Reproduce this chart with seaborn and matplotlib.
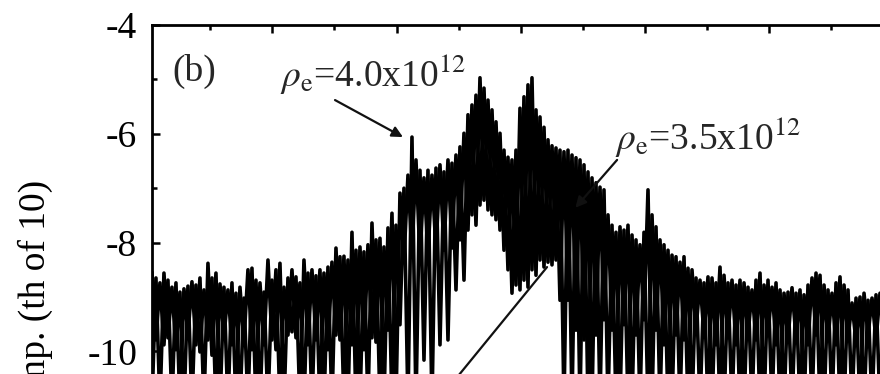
import numpy as np
import pandas as pd
import matplotlib
matplotlib.use("Agg")
import matplotlib.pyplot as plt
from matplotlib.ticker import MultipleLocator
import seaborn as sns

# Spectrum amplitude (log10) read as alternating spike tips and spike floors,
# sampled on an even frequency grid from freq_start to freq_stop.
spike_tips = [
    -8.54, -8.65, -8.74, -8.56, -8.69, -8.82, -8.74, -8.91, -8.85, -8.80,
    -8.72, -8.78, -8.65, -8.87, -8.38, -8.65, -8.56, -8.76, -8.82, -8.87,
    -8.74, -8.93, -8.82, -9.02, -8.50, -8.47, -8.69, -8.74, -8.91, -8.32,
    -8.69, -8.50, -8.38, -8.82, -8.65, -8.50, -8.63, -8.74, -8.32, -8.56,
    -8.50, -8.61, -8.50, -8.56, -8.45, -8.36, -8.10, -8.26, -8.25, -8.32,
    -7.81, -8.14, -8.08, -8.17, -8.04, -7.64, -7.95, -7.92, -8.08, -7.73,
    -7.46, -7.68, -7.09, -7.00, -6.76, -6.06, -6.48, -6.67, -6.81, -6.67,
    -6.76, -6.63, -6.57, -6.70, -6.48, -6.54, -6.39, -6.24, -5.99, -5.65,
    -5.47, -5.29, -4.97, -5.16, -5.38, -5.56, -5.78, -5.99, -6.30, -6.43,
    -6.48, -6.30, -5.53, -5.32, -5.10, -4.97, -5.56, -5.69, -5.88, -6.11,
    -6.22, -6.26, -6.30, -6.33, -6.30, -6.39, -6.44, -6.48, -6.57, -6.70,
    -6.81, -6.90, -6.98, -7.03, -7.49, -7.68, -7.81, -7.71, -7.77, -7.68,
    -7.86, -7.95, -8.04, -7.81, -7.03, -7.49, -7.71, -7.95, -8.04, -8.14,
    -8.23, -8.26, -8.36, -8.26, -8.47, -8.50, -8.65, -8.69, -8.74, -8.63,
    -8.65, -8.74, -8.45, -8.60, -8.74, -8.69, -8.78, -8.69, -8.74, -8.82,
    -8.87, -8.69, -8.56, -8.78, -8.69, -8.82, -8.74, -8.87, -8.93, -8.91,
    -8.83, -8.93, -8.87, -8.96, -8.78, -8.65, -8.56, -8.60, -8.78, -8.87,
    -8.93, -8.74, -8.63, -8.78, -8.87, -9.11, -9.02, -9.00, -8.93, -9.06,
    -9.02, -8.96, -8.93,
]
spike_floors = [
    -11.0, -9.79, -11.0, -9.88, -9.75, -11.0, -9.97, -11.0, -11.0, -9.70,
    -11.0, -9.88, -10.01, -11.0, -9.79, -10.07, -11.0, -11.0, -9.75, -11.0,
    -9.88, -11.0, -11.0, -9.83, -11.0, -9.97, -11.0, -11.0, -9.88, -11.0,
    -9.79, -9.97, -11.0, -11.0, -9.70, -9.64, -9.75, -11.0, -11.0, -9.88,
    -11.0, -9.79, -11.0, -11.0, -9.97, -11.0, -9.70, -9.79, -11.0, -11.0,
    -9.88, -11.0, -11.0, -9.97, -11.0, -9.75, -9.83, -11.0, -11.0, -9.61,
    -11.0, -11.0, -9.51, -8.32, -11.0, -8.23, -11.0, -8.28, -10.16, -8.23,
    -11.0, -8.14, -9.88, -8.14, -9.79, -8.10, -8.87, -7.95, -8.69, -7.77,
    -7.49, -7.68, -7.31, -7.22, -7.40, -7.49, -7.58, -7.77, -8.14, -8.50,
    -8.93, -8.78, -8.87, -8.69, -8.82, -8.50, -8.60, -8.32, -8.45, -8.36,
    -8.41, -8.32, -9.06, -11.0, -9.06, -11.0, -9.61, -11.0, -9.79, -11.0,
    -11.0, -9.70, -11.0, -9.42, -11.0, -9.61, -11.0, -11.0, -9.51, -11.0,
    -11.0, -9.70, -11.0, -9.42, -11.0, -11.0, -9.61, -11.0, -9.88, -11.0,
    -11.0, -9.70, -11.0, -9.79, -11.0, -11.0, -9.61, -11.0, -9.70, -11.0,
    -11.0, -9.88, -11.0, -11.0, -9.75, -11.0, -9.88, -11.0, -11.0, -9.70,
    -11.0, -9.79, -11.0, -11.0, -9.70, -11.0, -9.88, -11.0, -11.0, -9.79,
    -11.0, -9.75, -11.0, -11.0, -9.88, -11.0, -9.70, -11.0, -11.0, -9.79,
    -11.0, -9.88, -11.0, -11.0, -9.75, -11.0, -9.83, -11.0, -11.0, -9.70,
    -11.0, -9.79, -11.0,
]
freq_start, freq_stop = 0.031, 5.893

trace_names = ["rho_e 4.0e12", "rho_e 3.5e12"]
ytick_values = [-4, -6, -8, -10]
ytick_labels = ["-4", "-6", "-8", "-10"]
panel_label = "(b)"
density_labels = [r"$\rho_{\rm e}$=4.0x10$^{12}$", r"$\rho_{\rm e}$=3.5x10$^{12}$"]
y_label = "Amp. (th of 10)"

# Two interleaved traces: where one sits on a tip the other sits on a floor
freq = np.linspace(freq_start, freq_stop, len(spike_tips))
tips = np.asarray(spike_tips)
floors = np.asarray(spike_floors)
even = np.arange(len(freq)) % 2 == 0
trace_a = np.where(even, tips, floors)
trace_b = np.where(even, floors, tips)
df = pd.concat([
    pd.DataFrame({"freq": freq, "amp": trace_a, "trace": trace_names[0]}),
    pd.DataFrame({"freq": freq, "amp": trace_b, "trace": trace_names[1]}),
], ignore_index=True)

sns.set_theme(style="ticks")
plt.rcParams["font.family"] = ["Liberation Serif", "DejaVu Serif"]
plt.rcParams["mathtext.fontset"] = "stix"
plt.rcParams["axes.unicode_minus"] = False

FS = 27
fig = plt.figure(figsize=(8.8, 3.74), dpi=100)
ax = fig.add_axes([0.17239, -0.52139, 0.84273, 1.45455])

sns.lineplot(data=df, x="freq", y="amp", hue="trace",
             palette=["#000000", "#000000"], estimator=None, sort=False,
             legend=False, linewidth=2.6, ax=ax)

ax.set_xlim(0.029, 6.0)
ax.set_ylim(-14, -4)
ax.xaxis.set_major_locator(MultipleLocator(1))
ax.xaxis.set_minor_locator(MultipleLocator(0.5))
ax.set_yticks(ytick_values, ytick_labels)
ax.yaxis.set_minor_locator(MultipleLocator(1))
ax.tick_params(which="both", direction="in", top=True, right=True,
               labelbottom=False, colors="black", labelsize=FS)
ax.tick_params(which="major", length=5.8, width=1.8, pad=10.5)
ax.tick_params(which="minor", length=3.6, width=1.8)
for sp in ax.spines.values():
    sp.set_linewidth(2.0)
    sp.set_color("black")
ax.set_xlabel("")

ax.set_ylabel(y_label, fontsize=FS, color="black")
ax.yaxis.set_label_coords(-0.1574, 0.7151)
ax.yaxis.label.set_horizontalalignment("right")
ax.yaxis.label.set_verticalalignment("center")

ax.text(0.193, -5.03, panel_label, fontsize=FS, ha="left", va="baseline")
ax.text(1.062, -5.14, density_labels[0], fontsize=FS, ha="left", va="baseline")
ax.text(3.759, -6.30, density_labels[1], fontsize=FS, ha="left", va="baseline")

arrow_kw = dict(color="#111111", lw=1.6, shrinkA=0, shrinkB=0)
ax.annotate("", xy=(2.052, -6.06), xytext=(1.505, -5.38),
            arrowprops=dict(arrowstyle="-|>", mutation_scale=16, **arrow_kw))
ax.annotate("", xy=(3.44, -7.36), xytext=(3.776, -6.48),
            arrowprops=dict(arrowstyle="-|>", mutation_scale=16, **arrow_kw))
ax.annotate("", xy=(3.212, -8.45), xytext=(2.350, -10.86),
            arrowprops=dict(arrowstyle="-", **arrow_kw))

fig.savefig("out.png", dpi=100)
